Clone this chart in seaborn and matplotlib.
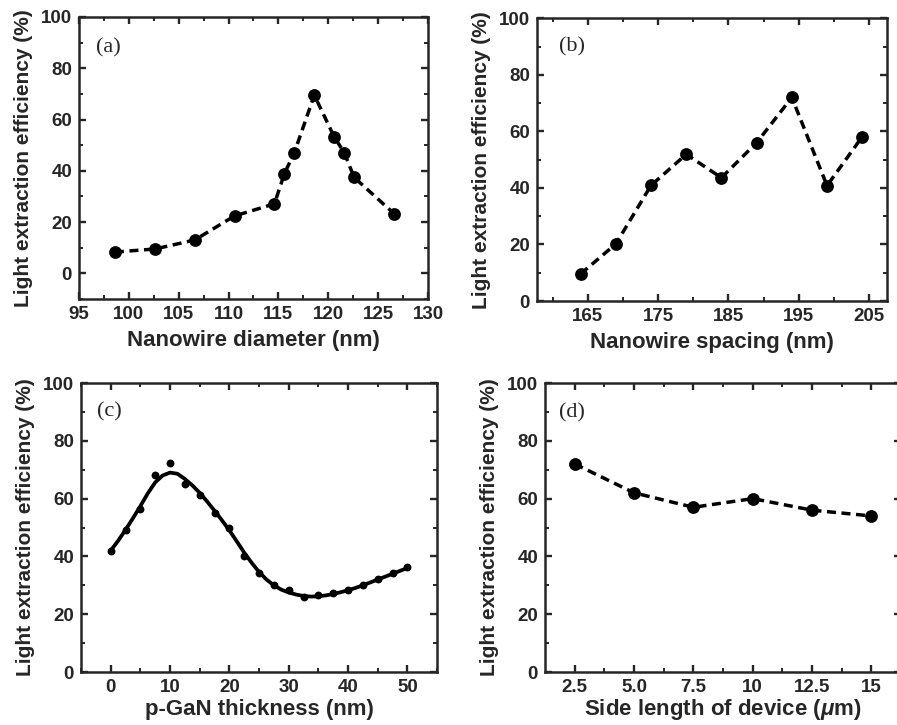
import numpy as np
import pandas as pd
import matplotlib
matplotlib.use("Agg")
import matplotlib.pyplot as plt
import seaborn as sns
from matplotlib.ticker import MultipleLocator, FixedLocator

# (a) nanowire diameter
diam_nm = [98.6, 102.6, 106.6, 110.6, 114.6, 115.6, 116.6, 118.6, 120.6, 121.6, 122.6, 126.6]
diam_lee = [8.3, 9.5, 13.0, 22.4, 27.1, 38.9, 47.1, 69.5, 53.2, 47.1, 37.4, 23.3]

# (b) nanowire spacing
spacing_nm = [164, 169, 174, 179, 184, 189, 194, 199, 204]
spacing_lee = [9.6, 20.2, 40.9, 51.9, 43.6, 56.0, 72.0, 40.8, 58.1]

# (c) p-GaN thickness: simulated points and fitted curve
pgan_nm = [0, 2.5, 5, 7.5, 10, 12.5, 15, 17.5, 20, 22.5, 25,
           27.5, 30, 32.5, 35, 37.5, 40, 42.5, 45, 47.5, 50]
pgan_lee = [42.0, 49.0, 56.3, 68.0, 72.2, 64.9, 61.2, 55.1, 50.0, 40.0, 34.3,
            30.0, 28.3, 25.8, 26.8, 27.3, 28.3, 30.1, 32.2, 34.1, 36.2]
fit_nm = [0, 1.25, 2.5, 3.75, 5, 6.25, 7.5, 8.75, 10, 11.25, 12.5, 13.75, 15,
          16.25, 17.5, 18.75, 20, 21.25, 22.5, 23.75, 25, 26.25, 27.5, 28.75,
          30, 31.25, 32.5, 33.75, 35, 36.25, 37.5, 38.75, 40, 41.25, 42.5,
          43.75, 45, 46.25, 47.5, 48.75, 50]
fit_lee = [42.0, 45.4, 49.2, 53.2, 57.4, 61.8, 65.6, 68.0, 69.0, 68.6, 66.8,
           64.6, 62.0, 59.0, 55.8, 52.5, 49.0, 45.2, 41.3, 37.8, 34.6, 32.0,
           30.0, 28.5, 27.5, 26.8, 26.3, 26.1, 26.2, 26.5, 27.0, 27.6, 28.3,
           29.1, 30.0, 31.0, 32.0, 33.0, 34.0, 35.0, 36.0]

# (d) device side length
side_um = [2.5, 5.0, 7.5, 10.0, 12.5, 15.0]
side_lee = [72.0, 62.0, 57.0, 60.0, 56.0, 54.0]
side_labels = ["2.5", "5.0", "7.5", "10", "12.5", "15"]

sns.set_style("ticks")
plt.rcParams["font.family"] = ["Liberation Sans", "DejaVu Sans"]
plt.rcParams["font.weight"] = "bold"
plt.rcParams["mathtext.fontset"] = "custom"
plt.rcParams["mathtext.it"] = "Liberation Sans:italic:bold"
plt.rcParams["mathtext.rm"] = "Liberation Sans:bold"

fig = plt.figure(figsize=(8.97, 7.25), dpi=100)
ax_a = fig.add_axes([0.0881, 0.5876, 0.389, 0.389])
ax_b = fig.add_axes([0.5987, 0.5848, 0.390, 0.390])
ax_c = fig.add_axes([0.0903, 0.0731, 0.397, 0.3986])
ax_d = fig.add_axes([0.6076, 0.0731, 0.397, 0.3986])

ylab = "Light extraction efficiency (%)"


def dashed_panel(ax, x, y):
    df = pd.DataFrame({"x": x, "y": y})
    sns.lineplot(data=df, x="x", y="y", ax=ax, color="black", lw=2.5,
                 linestyle=(0, (2.6, 1.6)), zorder=2)
    sns.scatterplot(data=df, x="x", y="y", ax=ax, color="black", s=85,
                    edgecolor="black", linewidth=0, zorder=3)


def style_axes(ax, letter, lx, ly):
    for sp in ax.spines.values():
        sp.set_linewidth(1.8)
        sp.set_visible(True)
    ax.tick_params(which="both", direction="in", top=True, right=True,
                   labelsize=13.5, pad=5)
    ax.tick_params(which="major", length=5, width=1.7)
    ax.tick_params(which="minor", length=3, width=1.4)
    ax.yaxis.set_major_locator(MultipleLocator(20))
    ax.yaxis.set_minor_locator(MultipleLocator(10))
    ax.set_ylabel(ylab, fontsize=15, fontweight="bold", labelpad=6)
    ax.text(lx, ly, letter, transform=ax.transAxes, ha="left", va="center",
            fontsize=16, fontweight="normal", family="Liberation Serif")
    for lab in ax.get_xticklabels() + ax.get_yticklabels():
        lab.set_fontweight("bold")


# (a)
dashed_panel(ax_a, diam_nm, diam_lee)
ax_a.set_xlim(95, 130)
ax_a.set_ylim(-10, 100)
ax_a.xaxis.set_major_locator(MultipleLocator(5))
ax_a.xaxis.set_minor_locator(MultipleLocator(2.5))
ax_a.set_xlabel("Nanowire diameter (nm)", fontsize=16, fontweight="bold", labelpad=5)
style_axes(ax_a, "(a)", 0.050, 0.89)

# (b)
dashed_panel(ax_b, spacing_nm, spacing_lee)
ax_b.set_xlim(157.8, 207.5)
ax_b.set_ylim(0, 100)
ax_b.xaxis.set_major_locator(FixedLocator([165, 175, 185, 195, 205]))
ax_b.xaxis.set_minor_locator(FixedLocator([160, 170, 180, 190, 200]))
ax_b.set_xlabel("Nanowire spacing (nm)", fontsize=16, fontweight="bold", labelpad=5)
style_axes(ax_b, "(b)", 0.064, 0.898)

# (c)
fit_df = pd.DataFrame({"x": fit_nm, "y": fit_lee})
pts_df = pd.DataFrame({"x": pgan_nm, "y": pgan_lee})
sns.lineplot(data=fit_df, x="x", y="y", ax=ax_c, color="black", lw=2.7, zorder=2)
sns.scatterplot(data=pts_df, x="x", y="y", ax=ax_c, color="black", s=32,
                linewidth=0, zorder=3)
ax_c.set_xlim(-5, 55)
ax_c.set_ylim(0, 100)
ax_c.xaxis.set_major_locator(MultipleLocator(10))
ax_c.xaxis.set_minor_locator(MultipleLocator(5))
ax_c.set_xlabel("p-GaN thickness (nm)", fontsize=16, fontweight="bold", labelpad=2)
style_axes(ax_c, "(c)", 0.046, 0.90)

# (d)
dashed_panel(ax_d, side_um, side_lee)
ax_d.set_xlim(1.25, 16.25)
ax_d.set_ylim(0, 100)
ax_d.set_xticks(side_um)
ax_d.set_xticklabels(side_labels)
ax_d.xaxis.set_minor_locator(FixedLocator([3.75, 6.25, 8.75, 11.25, 13.75]))
ax_d.set_xlabel(r"Side length of device ($\mathit{\mu}$m)", fontsize=16,
                fontweight="bold", labelpad=1)
style_axes(ax_d, "(d)", 0.040, 0.896)

fig.savefig("out.png", dpi=100)
